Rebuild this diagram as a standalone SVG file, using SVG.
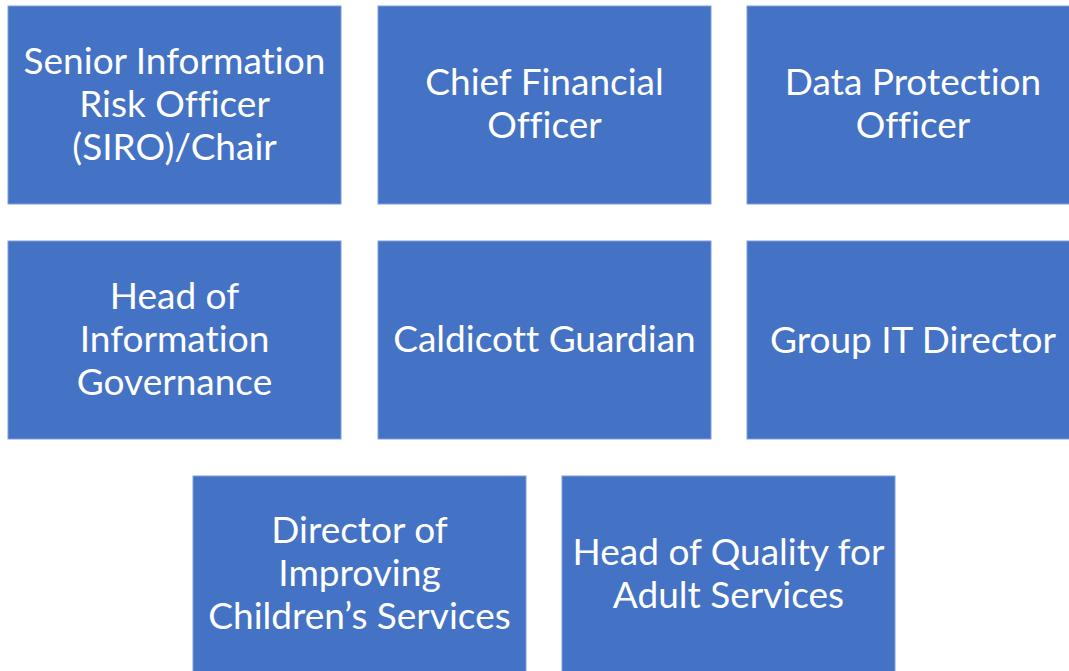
<svg xmlns="http://www.w3.org/2000/svg" width="1069" height="671" viewBox="0 0 1069 671">
<style>
.box{fill:#4472C4;stroke:#7F9FD8;stroke-width:1}
.t{font-family:Lato,"Open Sans","Liberation Sans",sans-serif;font-size:37px;fill:#FFFFFF;text-anchor:middle;font-variant-ligatures:none;font-feature-settings:"liga" 0,"dlig" 0}
</style>
<rect width="1069" height="671" fill="#FFFFFF"/>
<g id="connectors"></g>
<g id="siro"><rect class="box" x="8" y="6" width="333" height="198"/>
<text class="t" x="174.5" y="74">Senior Information</text><text class="t" x="174.5" y="117">Risk Officer</text><text class="t" x="174.5" y="160">(SIRO)/Chair</text></g>
<g id="cfo"><rect class="box" x="378" y="6" width="333" height="198"/>
<text class="t" x="544.5" y="95">Chief Financial</text><text class="t" x="544.5" y="138">Officer</text></g>
<g id="dpo"><rect class="box" x="747" y="6" width="323" height="198"/>
<text class="t" x="913" y="95">Data Protection</text><text class="t" x="913" y="138">Officer</text></g>
<g id="hig"><rect class="box" x="8" y="241" width="333" height="198"/>
<text class="t" x="174.5" y="309">Head of</text><text class="t" x="174.5" y="352">Information</text><text class="t" x="174.5" y="395">Governance</text></g>
<g id="caldicott"><rect class="box" x="378" y="241" width="333" height="198"/>
<text class="t" x="544.5" y="352">Caldicott Guardian</text></g>
<g id="it"><rect class="box" x="747" y="241" width="323" height="198"/>
<text class="t" x="913" y="353">Group IT Director</text></g>
<g id="children"><rect class="box" x="193" y="476" width="333" height="196"/>
<text class="t" x="359.5" y="543">Director of</text><text class="t" x="359.5" y="586">Improving</text><text class="t" x="359.5" y="629">Children’s Services</text></g>
<g id="adult"><rect class="box" x="562" y="476" width="333" height="196"/>
<text class="t" x="728.5" y="565">Head of Quality for</text><text class="t" x="728.5" y="608">Adult Services</text></g>
</svg>
